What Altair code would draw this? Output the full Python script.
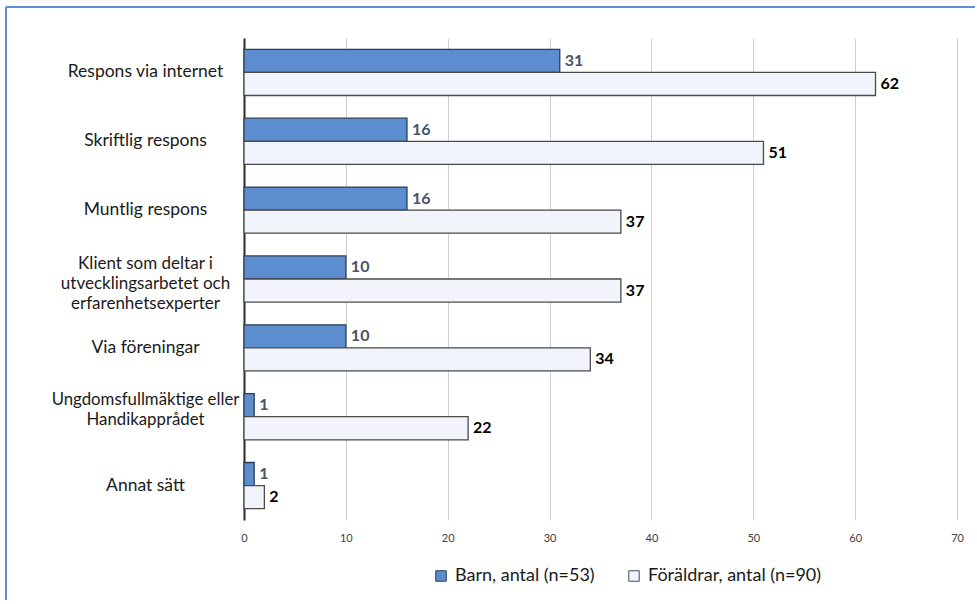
import altair as alt
import pandas as pd

# Survey answers: how feedback was given (counts)
categories = [
    "Respons via internet",
    "Skriftlig respons",
    "Muntlig respons",
    "Klient som deltar i utvecklingsarbetet och erfarenhetsexperter",
    "Via föreningar",
    "Ungdomsfullmäktige eller Handikapprådet",
    "Annat sätt",
]
barn = [31, 16, 16, 10, 10, 1, 1]
foraldrar = [62, 51, 37, 37, 34, 22, 2]
series = ["Barn, antal (n=53)", "Föräldrar, antal (n=90)"]
x_ticks = [0, 10, 20, 30, 40, 50, 60, 70]

# Line breaks for the long category labels
wrapped = {
    "Klient som deltar i utvecklingsarbetet och erfarenhetsexperter": [
        "Klient som deltar i", "utvecklingsarbetet och", "erfarenhetsexperter"],
    "Ungdomsfullmäktige eller Handikapprådet": [
        "Ungdomsfullmäktige eller", "Handikapprådet"],
}
# Vertical shift so that a wrapped label block sits centred on its bars
wrap_shift = {3: -15, 2: -17}
# Slightly smaller type for wrapped labels so they stay clear of the axis
wrap_font = {3: 17, 2: 16.8}

rows = []
for cat, b, f in zip(categories, barn, foraldrar):
    rows.append({"kategori": cat, "serie": series[0], "antal": b})
    rows.append({"kategori": cat, "serie": series[1], "antal": f})
df = pd.DataFrame(rows)

label_expr = ""
offset_conditions = []
font_conditions = []
for name, lines in wrapped.items():
    arr = "[" + ", ".join("'" + s + "'" for s in lines) + "]"
    label_expr += f"datum.label == '{name}' ? {arr} : "
    offset_conditions.append(
        {"test": f"datum.label == '{name}'", "value": wrap_shift[len(lines)]}
    )
    font_conditions.append(
        {"test": f"datum.label == '{name}'", "value": wrap_font[len(lines)]}
    )
label_expr += "datum.label"

FONT = "Lato"
BLUE = "#5b8dcf"
PALE = "#f1f5fb"

y_enc = alt.Y(
    "kategori:N",
    sort=categories,
    title=None,
    scale=alt.Scale(paddingInner=0.33, paddingOuter=0.165),
    axis=alt.Axis(
        labelExpr=label_expr,
        labelAlign="center",
        labelBaseline="middle",
        labelPadding=99,
        labelFontSize={"condition": font_conditions, "value": 17.5},
        labelFont=FONT,
        labelColor="#1a1a1a",
        labelLineHeight=20,
        labelLimit=300,
        labelOffset={"condition": offset_conditions, "value": 0},
        ticks=False,
        domainColor="#2b2b2b",
        domainWidth=2,
        grid=False,
    ),
)
yoff = alt.YOffset("serie:N", sort=series)
x_enc = alt.X(
    "antal:Q",
    title=None,
    scale=alt.Scale(domain=[0, 70], nice=False),
    axis=alt.Axis(
        values=x_ticks,
        labelFontSize=11,
        labelFont=FONT,
        labelColor="#404040",
        labelPadding=12,
        labelFlush=False,
        ticks=False,
        domain=False,
        grid=True,
        gridColor="#cfcfcf",
        gridWidth=1,
    ),
)

base = alt.Chart(df).encode(y=y_enc, yOffset=yoff)

bars = base.mark_bar(strokeWidth=1.3).encode(
    x=x_enc,
    fill=alt.Fill(
        "serie:N",
        sort=series,
        scale=alt.Scale(domain=series, range=[BLUE, PALE]),
        legend=alt.Legend(
            title=None,
            orient="none",
            legendX=188,
            legendY=529,
            direction="horizontal",
            symbolType="square",
            symbolSize=110,
            symbolStrokeWidth=1,
            labelFontSize=18,
            labelFont=FONT,
            labelColor="#1a1a1a",
            labelOffset=5,
            labelLimit=300,
            columnPadding=30,
            padding=0,
        ),
    ),
    stroke=alt.Stroke(
        "serie:N",
        sort=series,
        scale=alt.Scale(domain=series, range=["#2e3f55", "#4a4a4a"]),
    ),
)

labels = base.mark_text(
    align="left", baseline="middle", dx=5, fontSize=16, fontWeight="bold", font=FONT
).encode(
    x=alt.X("antal:Q"),
    text=alt.Text("antal:Q"),
    color=alt.Color(
        "serie:N",
        sort=series,
        scale=alt.Scale(domain=series, range=["#44546a", "#000000"]),
        legend=None,
    ),
)

# Blue frame along the top and left edge of the figure
frame_src = alt.Chart(pd.DataFrame({"k": [0]}))
frame_left = frame_src.mark_rule(color="#5f8fd2", strokeWidth=2).encode(
    x=alt.value(-238), y=alt.value(-31), y2=alt.value(562)
)
frame_top = frame_src.mark_rule(color="#5f8fd2", strokeWidth=2).encode(
    x=alt.value(-238), x2=alt.value(731), y=alt.value(-31)
)

chart = (
    alt.layer(bars, labels, frame_left, frame_top)
    .resolve_scale(color="independent")
    .properties(
        width=713,
        height=482,
        padding={"left": 5, "top": 6, "right": 0, "bottom": 0},
        background="white",
    )
    .configure_view(stroke=None)
)

chart.save("out.html", embed_options={"renderer": "svg", "actions": False})
